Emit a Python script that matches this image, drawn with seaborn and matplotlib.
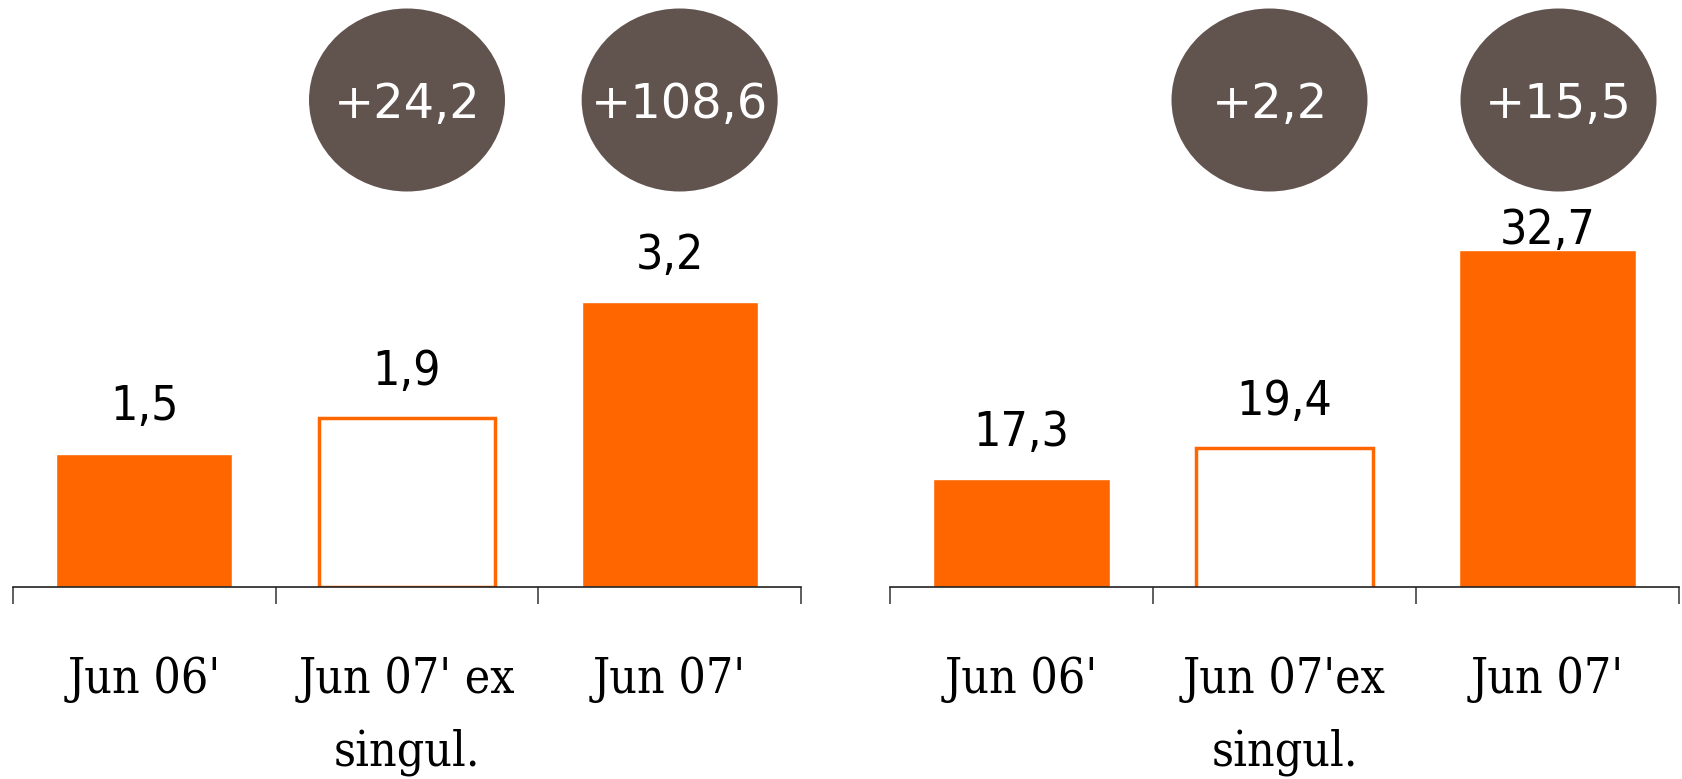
import matplotlib
matplotlib.use("Agg")
import matplotlib.pyplot as plt
import matplotlib.transforms as mtransforms
from matplotlib.patches import Ellipse
import seaborn as sns
import pandas as pd

# ---------------- data ----------------
categories_left = ["Jun 06'", "Jun 07' ex\nsingul.", "Jun 07'"]
values_left = [1.5, 1.9, 3.2]
labels_left = ["1,5", "1,9", "3,2"]
growth_left = ["+24,2", "+108,6"]

categories_right = ["Jun 06'", "Jun 07'ex\nsingul.", "Jun 07'"]
values_right = [17.3, 19.4, 32.7]
labels_right = ["17,3", "19,4", "32,7"]
growth_right = ["+2,2", "+15,5"]

# ---------------- style ----------------
ORANGE = "#FF6600"
BROWN = "#61534E"
W, H, DPI = 1683, 779, 100

sns.set_theme(style="white")
plt.rcParams["font.family"] = ["DejaVu Sans"]

fig = plt.figure(figsize=(W / DPI, H / DPI), dpi=DPI)
fig.patch.set_facecolor("white")

AX_H = 587  # axes height in px (axes top = figure top)
axL = fig.add_axes([13 / W, (H - AX_H) / H, 788 / W, AX_H / H])
axR = fig.add_axes([890 / W, (H - AX_H) / H, 789 / W, AX_H / H])

FS = 34.5
ELL_CY = 100    # ellipse centre, px from top
ELL_H = 183
ELL_W = 196


def panel(ax, cats, vals, labels, growth, ylim, ell_offsets_px):
    df = pd.DataFrame({"cat": cats, "val": vals})
    sns.barplot(data=df, x="cat", y="val", color=ORANGE, saturation=1,
                width=0.67, ax=ax, errorbar=None)
    bars = ax.patches
    bars[1].set_facecolor("white")
    bars[1].set_edgecolor(ORANGE)
    bars[1].set_linewidth(2.5)

    ax.set_xlim(-0.5, 2.5)
    ax.set_ylim(*ylim)
    ax.set_facecolor("none")
    for s in ["top", "left", "right"]:
        ax.spines[s].set_visible(False)
    ax.spines["bottom"].set_color("#222222")
    ax.spines["bottom"].set_linewidth(1.2)
    ax.set_yticks([])
    ax.set_xlabel("")
    ax.set_ylabel("")

    ax.set_xticks(range(len(cats)))
    ax.set_xticklabels(cats, fontsize=FS, family="DejaVu Serif",
                       fontstretch="condensed", color="black",
                       linespacing=1.68)
    ax.tick_params(axis="x", which="major", length=0, pad=50)
    ax.set_xticks([-0.5, 0.5, 1.5, 2.5], minor=True)
    ax.tick_params(axis="x", which="minor", length=12, width=1.1,
                   color="#333333", direction="out", bottom=True)

    # value labels above bars (pushed down under the ellipse when needed)
    ppu = AX_H / (ylim[1] - ylim[0])  # px per unit
    for b, lab in zip(bars, labels):
        top_px = AX_H - (b.get_height() - ylim[0]) * ppu   # px from top
        base_px = top_px - 33
        min_base = ELL_CY + ELL_H / 2 + 52
        base_px = max(base_px, min_base)
        off_pt = (top_px - base_px) * 72 / DPI
        ax.annotate(lab, (b.get_x() + b.get_width() / 2, b.get_height()),
                    xytext=(0, off_pt), textcoords="offset points",
                    ha="center", va="baseline", fontsize=FS,
                    fontstretch="condensed", color="black",
                    annotation_clip=False)

    # growth ellipses above bars 2 and 3
    trans = mtransforms.blended_transform_factory(ax.transData, ax.transAxes)
    px_per_cat = ax.bbox.width / 3.0
    for i, (g, off) in enumerate(zip(growth, ell_offsets_px)):
        cx = i + 1 + off / px_per_cat
        e = Ellipse((cx, (AX_H - ELL_CY) / AX_H), ELL_W / px_per_cat,
                    ELL_H / AX_H, transform=trans, facecolor=BROWN,
                    edgecolor="none", clip_on=False, zorder=3)
        ax.add_patch(e)
        ax.text(cx, (AX_H - 118) / AX_H, g, transform=trans, ha="center",
                va="baseline", fontsize=FS, color="white", zorder=4)


panel(axL, categories_left, values_left, labels_left, growth_left,
      (0, AX_H / 89.0), [0, 10])
panel(axR, categories_right, values_right, labels_right, growth_right,
      (10.06, 10.06 + AX_H / 14.87), [-15, 11])

fig.savefig("out.png", dpi=DPI, facecolor="white")
